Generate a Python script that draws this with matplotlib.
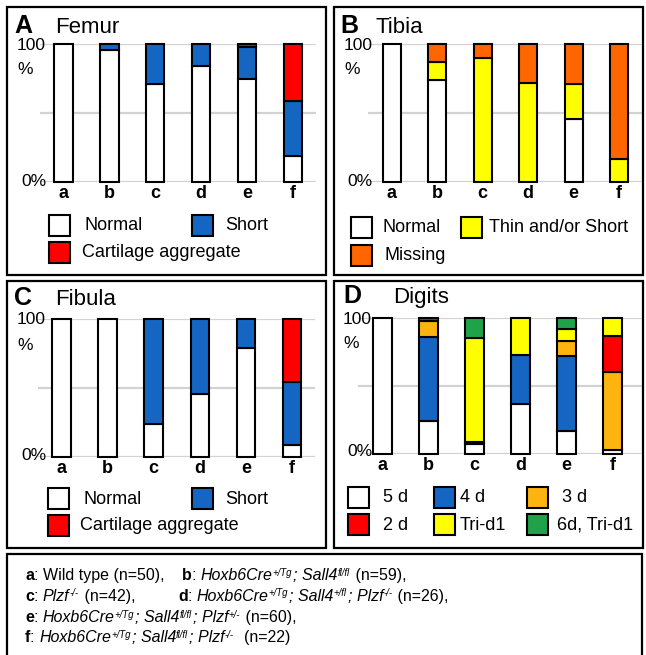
import matplotlib
matplotlib.use("Agg")
import matplotlib.pyplot as plt
from matplotlib.patches import Rectangle
from matplotlib.font_manager import FontProperties

plt.rcParams['font.family'] = ['Liberation Sans', 'DejaVu Sans']

cats = ['a', 'b', 'c', 'd', 'e', 'f']

# femur (%)
femur_normal = [100, 96, 71, 84, 75, 19]
femur_short = [0, 4, 29, 16, 23, 40]
femur_cartilage = [0, 0, 0, 0, 2, 41]

# tibia (%)
tibia_normal = [100, 74, 0, 0, 46, 0]
tibia_thin = [0, 13, 90, 72, 25, 17]
tibia_missing = [0, 13, 10, 28, 29, 83]

# fibula (%)
fibula_normal = [100, 100, 24, 46, 79, 9]
fibula_short = [0, 0, 76, 54, 21, 45]
fibula_cartilage = [0, 0, 0, 0, 0, 46]

# digits (%)
digits_5d = [100, 24, 7, 37, 17, 3]
digits_4d = [0, 62, 2, 36, 55, 0]
digits_3d = [0, 12, 0, 0, 11, 57]
digits_2d = [0, 2, 0, 0, 0, 27]
digits_tri = [0, 0, 76, 27, 9, 13]
digits_6d = [0, 0, 15, 0, 8, 0]

WHITE = 'white'
BLUE = '#1466c2'
RED = '#ff0000'
YELLOW = '#ffff00'
ORANGE = '#ff6600'
GOLD = '#fdb40f'
GREEN = '#1fa24a'

W, H = 646, 655
fig = plt.figure(figsize=(W / 100, H / 100), dpi=100)


def ptext(x, y, s, **kw):
    return fig.text(x / W, 1 - y / H, s, **kw)


def prect(x0, y0, x1, y1, **kw):
    r = Rectangle((x0 / W, 1 - y1 / H), (x1 - x0) / W, (y1 - y0) / H,
                  transform=fig.transFigure, **kw)
    fig.add_artist(r)
    return r


def stacked_panel(x0, x1, ybot, ytop, xlim, series):
    ax = fig.add_axes([x0 / W, 1 - ybot / H, (x1 - x0) / W, (ybot - ytop) / H])
    ax.set_xlim(*xlim)
    ax.set_ylim(0, 100)
    for g in (0, 50, 100):
        ax.axhline(g, color='#d2d2d2', lw=1.6, zorder=0)
    bottom = [0] * len(cats)
    for vals, col in series:
        for i, v in enumerate(vals):
            if v > 0:
                ax.bar(i, v, bottom=bottom[i], width=0.4, color=col,
                       edgecolor='black', linewidth=1.5, clip_on=False, zorder=3)
            bottom[i] += v
    ax.set_xticks(range(len(cats)))
    ax.set_xticklabels(cats, fontweight='bold', fontsize=13)
    ax.tick_params(axis='x', length=0, pad=2)
    ax.set_yticks([])
    for s in ax.spines.values():
        s.set_visible(False)
    ax.patch.set_alpha(0)
    return ax


def yaxis_labels(xr, ytop, ybot):
    ptext(xr, ytop, '100', ha='right', va='center', fontsize=12.5)
    ptext(xr - 29, ytop + 25, '%', ha='left', va='center', fontsize=12.5)
    ptext(xr, ybot, '0%', ha='right', va='center', fontsize=12.5)


def legend_item(x, y, col, label, tx):
    prect(x, y, x + 21, y + 21, facecolor=col, edgecolor='black', lw=1.5)
    ptext(tx, y + 11, label, ha='left', va='center', fontsize=13)


def title(x, y, letter, name, nx):
    ptext(x, y, letter, ha='left', va='baseline', fontsize=18, fontweight='bold')
    ptext(nx, y, name, ha='left', va='baseline', fontsize=16)


# panel boxes
prect(7, 7, 326, 275, fill=False, edgecolor='black', lw=1.6)
prect(334, 7, 643, 275, fill=False, edgecolor='black', lw=1.6)
prect(7, 281, 326, 548, fill=False, edgecolor='black', lw=1.6)
prect(334, 281, 643, 548, fill=False, edgecolor='black', lw=1.6)
prect(7, 554, 642, 665, fill=False, edgecolor='black', lw=1.6)

# A femur
title(14, 33, 'A', 'Femur', 55)
stacked_panel(40, 316, 182, 44, (-0.51, 5.5),
              [(femur_normal, WHITE), (femur_short, BLUE), (femur_cartilage, RED)])
yaxis_labels(46, 45, 181)
legend_item(49, 215, WHITE, 'Normal', 85)
legend_item(192, 215, BLUE, 'Short', 225)
legend_item(49, 242, RED, 'Cartilage aggregate', 82)

# B tibia
title(340, 33, 'B', 'Tibia', 375)
stacked_panel(368, 642, 182, 44, (-0.52, 5.5),
              [(tibia_normal, WHITE), (tibia_thin, YELLOW), (tibia_missing, ORANGE)])
yaxis_labels(373, 45, 181)
legend_item(351, 217, WHITE, 'Normal', 382)
legend_item(461, 217, YELLOW, 'Thin and/or Short', 489)
legend_item(351, 245, ORANGE, 'Missing', 385)

# C fibula
title(14, 305, 'C', 'Fibula', 55)
stacked_panel(38, 315, 457, 319, (-0.51, 5.5),
              [(fibula_normal, WHITE), (fibula_short, BLUE), (fibula_cartilage, RED)])
yaxis_labels(46, 320, 456)
legend_item(48, 488, WHITE, 'Normal', 83)
legend_item(192, 488, BLUE, 'Short', 225)
legend_item(48, 515, RED, 'Cartilage aggregate', 80)

# D digits
title(343, 303, 'D', 'Digits', 393)
stacked_panel(358, 642, 454, 318, (-0.53, 5.64),
              [(digits_5d, WHITE), (digits_4d, BLUE), (digits_3d, GOLD),
               (digits_2d, RED), (digits_tri, YELLOW), (digits_6d, GREEN)])
yaxis_labels(372, 319, 452)
legend_item(348, 487, WHITE, '5 d', 383)
legend_item(434, 487, BLUE, '4 d', 460)
legend_item(527, 487, GOLD, '3 d', 562)
legend_item(348, 514, RED, '2 d', 383)
legend_item(434, 514, YELLOW, 'Tri-d1', 460)
legend_item(527, 514, GREEN, '6d, Tri-d1', 557)

# genotype key, drawn piece by piece so the superscripts sit right
renderer = fig.canvas.get_renderer()
base = 11.5
props = {
    'n': FontProperties(family='Liberation Sans', size=base),
    'b': FontProperties(family='Liberation Sans', size=base, weight='bold'),
    'i': FontProperties(family='Liberation Sans', size=base, style='italic'),
    's': FontProperties(family='Liberation Sans', size=base * 0.6, style='italic'),
}


def width_of(s, fp):
    w1 = renderer.get_text_width_height_descent('|' + s + '|', fp, False)[0]
    w0 = renderer.get_text_width_height_descent('||', fp, False)[0]
    return w1 - w0


def rich(x, y, parts):
    for s, k in parts:
        yy = y - 4.5 if k == 's' else y
        fig.text(x / W, 1 - yy / H, s, fontproperties=props[k], va='baseline', ha='left')
        x += width_of(s, props[k]) + (1 if k == 's' else 0)


HOX = [('Hoxb6Cre', 'i'), ('+/Tg', 's')]
rich(25, 580, [('a', 'b'), (': Wild type (n=50),', 'n')])
rich(182, 580, [('b', 'b'), (': ', 'n')] + HOX + [('; Sall4', 'i'), ('fl/fl', 's'), (' (n=59),', 'n')])
rich(25, 601, [('c', 'b'), (': ', 'n'), ('Plzf', 'i'), ('-/-', 's'), (' (n=42),', 'n')])
rich(178, 601, [('d', 'b'), (': ', 'n')] + HOX + [('; Sall4', 'i'), ('+/fl', 's'),
                                                 ('; Plzf', 'i'), ('-/-', 's'), (' (n=26),', 'n')])
rich(25, 622, [('e', 'b'), (': ', 'n')] + HOX + [('; Sall4', 'i'), ('fl/fl', 's'),
                                                ('; Plzf', 'i'), ('+/-', 's'), (' (n=60),', 'n')])
rich(25, 642, [('f', 'b'), (': ', 'n')] + HOX + [('; Sall4', 'i'), ('fl/fl', 's'),
                                                ('; Plzf', 'i'), ('-/-', 's'), ('  (n=22)', 'n')])

fig.savefig('out.png', dpi=100)
